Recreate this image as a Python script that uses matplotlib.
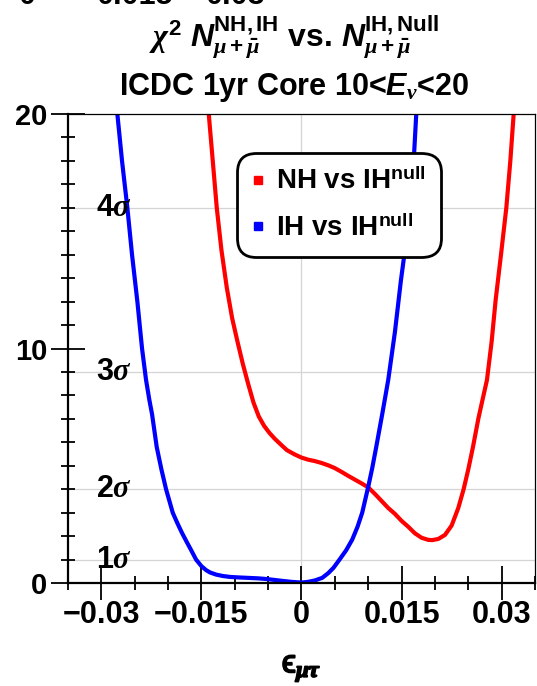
import matplotlib
matplotlib.use("Agg")
import matplotlib.pyplot as plt
import matplotlib.patheffects as pe
from matplotlib.lines import Line2D
from matplotlib.ticker import MultipleLocator, FixedLocator

plt.rcParams['font.family'] = ['Liberation Sans', 'DejaVu Sans']
plt.rcParams['font.weight'] = 'bold'
plt.rcParams['mathtext.fontset'] = 'custom'
plt.rcParams['mathtext.rm'] = 'Liberation Sans:bold'
plt.rcParams['mathtext.bf'] = 'Liberation Sans:bold'
plt.rcParams['mathtext.it'] = 'Liberation Serif:italic'
plt.rcParams['mathtext.sf'] = 'Liberation Sans:bold:italic'

# chi^2 curves vs eps_mu_tau
eps_nh = [-0.0139, -0.0133, -0.0127, -0.0120, -0.0112, -0.0104, -0.0096, -0.0088,
          -0.0080, -0.0072, -0.0064, -0.0056, -0.0048, -0.0040, -0.0030, -0.0022,
          -0.0010, 0.0, 0.0010, 0.0020, 0.0030, 0.0040, 0.0050, 0.0060, 0.0070,
          0.0080, 0.0090, 0.0100, 0.0110, 0.0120, 0.0130, 0.0140, 0.0150, 0.0160,
          0.0170, 0.0180, 0.0190, 0.0196, 0.0205, 0.0215, 0.0225, 0.0235, 0.0243,
          0.0250, 0.0257, 0.0265, 0.0272, 0.0278, 0.0285, 0.0291, 0.0299, 0.0307,
          0.0313, 0.0318]
chi2_nh = [20.0, 18.0, 16.0, 14.2, 12.6, 11.3, 10.3, 9.35,
           8.5, 7.7, 7.1, 6.7, 6.4, 6.15, 5.88, 5.67,
           5.48, 5.35, 5.26, 5.2, 5.12, 5.02, 4.9, 4.74, 4.57,
           4.41, 4.25, 4.08, 3.8, 3.5, 3.2, 2.95, 2.65, 2.4,
           2.12, 1.93, 1.84, 1.83, 1.88, 2.05, 2.45, 3.2, 4.0,
           4.85, 5.8, 7.0, 7.9, 8.66, 10.3, 12.07, 14.0, 16.0,
           18.0, 20.0]

eps_ih = [-0.0276, -0.0269, -0.0261, -0.0254, -0.0246, -0.0239, -0.0233, -0.0228,
          -0.0224, -0.0217, -0.0210, -0.0203, -0.0198, -0.0193, -0.0186, -0.0179,
          -0.0172, -0.0165, -0.0158, -0.0150, -0.0143, -0.0137, -0.0128, -0.0118,
          -0.0107, -0.0095, -0.0080, -0.0065, -0.0052, -0.0040, -0.0028, -0.0015,
          0.0, 0.0010, 0.0020, 0.0031, 0.0040, 0.0048, 0.0057, 0.0067, 0.0076,
          0.0084, 0.0091, 0.0100, 0.0106, 0.0112, 0.0121, 0.0130, 0.0140, 0.0149,
          0.0156, 0.0163, 0.0168, 0.0172]
chi2_ih = [20.0, 18.0, 16.0, 14.0, 12.0, 10.0, 8.66, 7.8,
           7.2, 5.8, 4.85, 4.0, 3.5, 3.0, 2.55, 2.13,
           1.75, 1.38, 1.0, 0.72, 0.55, 0.45, 0.36, 0.3,
           0.26, 0.24, 0.22, 0.2, 0.17, 0.13, 0.09, 0.05,
           0.02, 0.05, 0.11, 0.22, 0.42, 0.65, 1.0, 1.4, 1.85,
           2.4, 3.0, 4.1, 4.9, 5.8, 7.2, 8.66, 10.7, 12.9,
           14.4, 16.0, 17.9, 20.0]

sigma_levels = [1, 4, 9, 16]
sigma_labels = [r'1$\sigma$', r'2$\sigma$', r'3$\sigma$', r'4$\sigma$']

fig = plt.figure(figsize=(5.37, 6.86), dpi=100)
ax = fig.add_axes([0.1266, 0.1501, 0.8697, 0.6837])

for lvl in sigma_levels:
    ax.axhline(lvl, color='#d4d4d4', lw=0.9, zorder=0)
ax.axvline(0, color='#d4d4d4', lw=0.9, zorder=0)

ax.plot(eps_nh, chi2_nh, color='red', lw=3.0, solid_joinstyle='round')
ax.plot(eps_ih, chi2_ih, color='blue', lw=3.0, solid_joinstyle='round')

for lvl, lab in zip(sigma_levels, sigma_labels):
    ax.text(-0.0308, lvl, lab, fontsize=22, va='center', ha='left')

ax.set_xlim(-0.035, 0.035)
ax.set_ylim(0, 20)
ax.xaxis.set_major_locator(FixedLocator([-0.03, -0.015, 0, 0.015, 0.03]))
ax.xaxis.set_minor_locator(MultipleLocator(0.005))
ax.yaxis.set_major_locator(MultipleLocator(10))
ax.yaxis.set_minor_locator(MultipleLocator(1))
ax.set_xticklabels(['\u22120.03', '\u22120.015', '0', '0.015', '0.03'])
ax.tick_params(which='major', direction='inout', length=24, width=1.3,
               labelsize=22, pad=0)
ax.tick_params(which='minor', direction='inout', length=10, width=1.3)
ax.tick_params(axis='y', labelsize=21, pad=3)

for s in ['left', 'bottom']:
    ax.spines[s].set_linewidth(1.6)
for s in ['top', 'right']:
    ax.spines[s].set_linewidth(0.9)

xl = ax.set_xlabel('\u03f5$_{\\mu\\tau}$', fontsize=23, labelpad=17)
xl.set_path_effects([pe.withStroke(linewidth=1.3, foreground='black')])

handles = [Line2D([], [], ls='none', marker='s', markersize=6, color='red'),
           Line2D([], [], ls='none', marker='s', markersize=6, color='blue')]
labels = [r'NH vs IH$^{\mathrm{null}}$', r'IH vs IH$^{\mathrm{null}}$']
leg = ax.legend(handles, labels, loc='upper left', bbox_to_anchor=(0.362, 0.917),
                fontsize=20, handlelength=0.4, handletextpad=0.45,
                labelspacing=0.7, borderpad=0.55, borderaxespad=0,
                fancybox=True, framealpha=1, edgecolor='black')
leg.get_frame().set_linewidth(2)
leg.get_frame().set_boxstyle('round', pad=0, rounding_size=0.7)

fig.text(0.548, 0.944,
         r'$\chi^2\ \mathsf{N}^{\mathrm{NH,IH}}_{\mu+\bar{\mu}}$ vs. $\mathsf{N}^{\mathrm{IH,Null}}_{\mu+\bar{\mu}}$',
         fontsize=23, ha='center', va='center')
fig.text(0.548, 0.873, r'ICDC 1yr Core 10<$\mathsf{E}_{\nu}$<20',
         fontsize=22, ha='center', va='center')

# bottom edge of the tick labels from the panel above
for xp, s in [(0.050, '0'), (0.251, '0.015'), (0.438, '0.03')]:
    fig.text(xp, 1 - 4 / 686, s, fontsize=22, ha='center', va='baseline')

fig.savefig('out.png', dpi=100)
